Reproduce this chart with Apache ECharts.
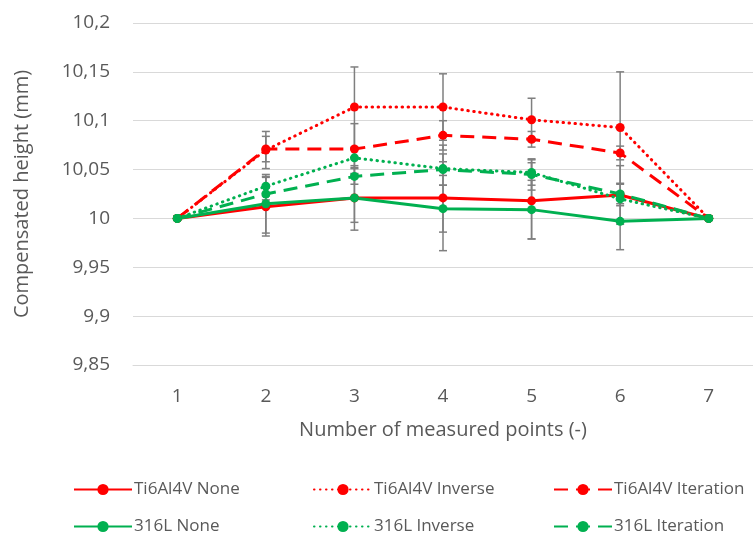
<!DOCTYPE html>
<html>
<head>
<meta charset="utf-8">
<script src="https://cdn.jsdelivr.net/npm/echarts@6/dist/echarts.min.js"></script>
<style>
  html, body { margin: 0; padding: 0; background: #fff; }
  #chart { width: 753px; height: 538px; }
</style>
</head>
<body>
<div id="chart"></div>
<script>
// Measured point index along the part
const CATEGORIES = ['1', '2', '3', '4', '5', '6', '7'];

// Mean compensated height (mm) per measured point
const TI_NONE      = [10, 10.012, 10.021, 10.021, 10.018, 10.024, 10];
const TI_INVERSE   = [10, 10.070, 10.114, 10.114, 10.101, 10.093, 10];
const TI_ITERATION = [10, 10.071, 10.071, 10.085, 10.081, 10.067, 10];
const SS_NONE      = [10, 10.015, 10.021, 10.010, 10.009, 9.997, 10];
const SS_INVERSE   = [10, 10.033, 10.062, 10.051, 10.047, 10.020, 10];
const SS_ITERATION = [10, 10.025, 10.043, 10.050, 10.045, 10.025, 10];

// Standard deviation (mm) per measured point
const TI_NONE_SD      = [0, 0.030, 0.033, 0.054, 0.039, 0.030, 0];
const TI_INVERSE_SD   = [0, 0.019, 0.041, 0.034, 0.022, 0.057, 0];
const TI_ITERATION_SD = [0, 0.013, 0.026, 0.015, 0.008, 0.007, 0];
const SS_NONE_SD      = [0, 0.030, 0.025, 0.024, 0.030, 0.029, 0];
const SS_INVERSE_SD   = [0, 0.010, 0.010, 0.007, 0.013, 0.007, 0];
const SS_ITERATION_SD = [0, 0.006, 0.008, 0.016, 0.016, 0.010, 0];

// Y-axis bounds and step (mm)
const Y_MIN = 9.85, Y_MAX = 10.2, Y_STEP = 0.05;

const RED = '#ff0000';
const GREEN = '#00b050';
const TEXT = '#595959';
const FONT = '"Open Sans", "DejaVu Sans", sans-serif';

const SERIES = [
  { name: 'Ti6Al4V None',      data: TI_NONE,      sd: TI_NONE_SD,      color: RED,   type: 'solid' },
  { name: 'Ti6Al4V Inverse',   data: TI_INVERSE,   sd: TI_INVERSE_SD,   color: RED,   type: 'dotted' },
  { name: 'Ti6Al4V Iteration', data: TI_ITERATION, sd: TI_ITERATION_SD, color: RED,   type: 'dashed' },
  { name: '316L None',         data: SS_NONE,      sd: SS_NONE_SD,      color: GREEN, type: 'solid' },
  { name: '316L Inverse',      data: SS_INVERSE,   sd: SS_INVERSE_SD,   color: GREEN, type: 'dotted' },
  { name: '316L Iteration',    data: SS_ITERATION, sd: SS_ITERATION_SD, color: GREEN, type: 'dashed' }
];

function dashOf(kind) {
  if (kind === 'dotted') return [0.5, 5.5];
  if (kind === 'dashed') return [14, 8];
  return 'solid';
}

function fmtComma(v) {
  return String(Math.round(v * 1000) / 1000).replace('.', ',');
}

// Error bars: vertical whisker with short caps
function errorBarSeries(s) {
  return {
    type: 'custom',
    name: s.name + ' sd',
    z: 1,
    silent: true,
    renderItem: function (params, api) {
      const x = api.value(0);
      const m = api.value(1);
      const e = api.value(2);
      if (!e) return null;
      const hi = api.coord([x, m + e]);
      const lo = api.coord([x, m - e]);
      const cw = 4;
      const st = { stroke: '#7f7f7f', lineWidth: 1.5 };
      return {
        type: 'group',
        children: [
          { type: 'line', shape: { x1: hi[0], y1: hi[1], x2: lo[0], y2: lo[1] }, style: st },
          { type: 'line', shape: { x1: hi[0] - cw, y1: hi[1], x2: hi[0] + cw, y2: hi[1] }, style: st },
          { type: 'line', shape: { x1: lo[0] - cw, y1: lo[1], x2: lo[0] + cw, y2: lo[1] }, style: st }
        ]
      };
    },
    data: s.data.map((v, i) => [i, v, s.sd[i]])
  };
}

function lineSeries(s) {
  return {
    type: 'line',
    name: s.name,
    z: 3,
    data: s.data,
    symbol: 'circle',
    symbolSize: 9,
    showSymbol: true,
    itemStyle: { color: s.color },
    lineStyle: { color: s.color, width: 3, type: dashOf(s.type), cap: s.type === 'dotted' ? 'round' : 'butt' },
    emphasis: { disabled: true }
  };
}

const legendCols = [73, 313, 553];
const legendRows = [481, 518];
const legends = SERIES.map((s, i) => ({
  data: [s.name],
  left: legendCols[i % 3],
  top: legendRows[Math.floor(i / 3)],
  padding: 0,
  itemWidth: 58,
  itemHeight: 14,
  selectedMode: false,
  textStyle: { color: TEXT, fontSize: 17, fontFamily: FONT, padding: [0, 0, 0, -3] }
}));

const chart = echarts.init(document.getElementById('chart'), null, { renderer: 'canvas' });
chart.setOption({
  animation: false,
  backgroundColor: '#ffffff',
  grid: { left: 133, top: 23, width: 626, height: 342 },
  legend: legends,
  xAxis: {
    type: 'category',
    data: CATEGORIES,
    boundaryGap: true,
    name: 'Number of measured points (-)',
    nameLocation: 'middle',
    nameGap: 55,
    nameTextStyle: { color: TEXT, fontSize: 20, fontFamily: FONT },
    axisLine: { show: true, lineStyle: { color: '#d9d9d9', width: 1 } },
    axisTick: { show: false },
    axisLabel: { color: TEXT, fontSize: 19, fontFamily: FONT, margin: 22 },
    splitLine: { show: false }
  },
  yAxis: {
    type: 'value',
    min: Y_MIN,
    max: Y_MAX,
    interval: Y_STEP,
    name: 'Compensated height (mm)',
    nameLocation: 'middle',
    nameRotate: 90,
    nameGap: 101,
    nameTextStyle: { color: TEXT, fontSize: 20, fontFamily: FONT },
    axisLine: { show: false },
    axisTick: { show: false },
    axisLabel: { color: TEXT, fontSize: 19, fontFamily: FONT, margin: 23, formatter: fmtComma },
    splitLine: { lineStyle: { color: '#d9d9d9', width: 1 } }
  },
  series: SERIES.map(errorBarSeries).concat(SERIES.map(lineSeries))
});
</script>
</body>
</html>
